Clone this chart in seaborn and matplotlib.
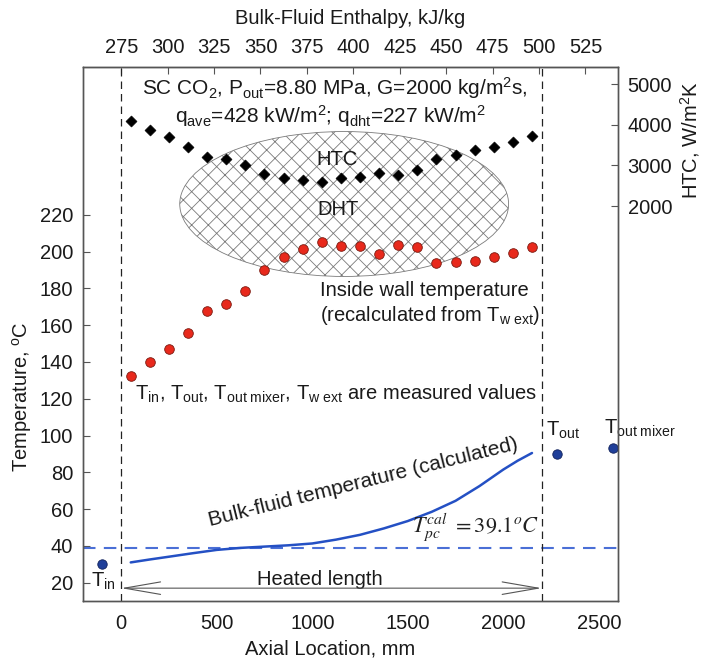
# ----------------------------------------------------------------------------
# SC CO2 heat transfer: wall / bulk temperature and HTC vs axial location
# ----------------------------------------------------------------------------
import numpy as np
import pandas as pd
import matplotlib
matplotlib.use("Agg")
import matplotlib.pyplot as plt
from matplotlib.patches import Ellipse
import seaborn as sns

# ---- data -----------------------------------------------------------------
# axial locations of the thermocouples, mm
wall_x = [50, 150, 250, 350, 450, 550, 650, 750, 850, 950, 1050,
          1150, 1250, 1350, 1450, 1550, 1650, 1750, 1850, 1950, 2050, 2150]
# inside wall temperature, deg C
wall_t = [132.1, 140.0, 147.2, 156.0, 167.8, 171.5, 178.7, 190.1, 197.3, 201.4, 205.5,
          203.3, 203.2, 198.8, 203.7, 202.4, 193.8, 194.3, 195.0, 197.0, 199.5, 202.4]
# heat transfer coefficient, W/m2K
htc = [4106, 3877, 3711, 3464, 3202, 3153, 3005, 2790, 2699, 2642, 2593,
       2684, 2723, 2822, 2773, 2889, 3153, 3252, 3383, 3464, 3588, 3728]

# calculated bulk-fluid temperature
bulk_x = [50, 150, 250, 375, 500, 625, 750, 875, 1000, 1125, 1250, 1375,
          1500, 1625, 1750, 1875, 2000, 2075, 2150]
bulk_t = [31.0, 32.6, 34.1, 36.0, 37.8, 38.9, 39.6, 40.3, 41.3, 43.4, 46.0, 49.5,
          53.5, 58.5, 64.5, 72.5, 81.5, 86.3, 90.5]

# measured inlet / outlet / mixer temperatures
meas_x = [-100, 2280, 2575]
meas_t = [30.3, 90.0, 93.3]

t_pc = 39.1
heated_length = 2200
enthalpy_ticks = [275, 300, 325, 350, 375, 400, 425, 450, 475, 500, 525]
temp_ticks = [20, 40, 60, 80, 100, 120, 140, 160, 180, 200, 220]
htc_ticks = [2000, 3000, 4000, 5000]
axial_ticks = [0, 500, 1000, 1500, 2000, 2500]

wall_df = pd.DataFrame({'x': wall_x, 't': wall_t, 'htc': htc})
bulk_df = pd.DataFrame({'x': bulk_x, 't': bulk_t})
meas_df = pd.DataFrame({'x': meas_x, 't': meas_t})

# ---- style -----------------------------------------------------------------
sns.set_style("white")
plt.rcParams['font.family'] = ['Liberation Sans', 'DejaVu Sans']
plt.rcParams['mathtext.fontset'] = 'custom'
plt.rcParams['mathtext.rm'] = 'Liberation Sans'
plt.rcParams['mathtext.it'] = 'Liberation Sans:italic'
plt.rcParams['hatch.color'] = '#7a7a7a'
plt.rcParams['hatch.linewidth'] = 0.6

txt = '#1a1a1a'
fs = 14.5
tfs = 14.5

fig = plt.figure(figsize=(7.02, 6.62), dpi=100)
ax = fig.add_axes([0.1182, 0.0921, 0.7621, 0.8067])

# DHT region
ax.add_patch(Ellipse((1167, 225.9), 1721, 78.8, facecolor='none',
                     edgecolor='#7a7a7a', hatch='xx', lw=0.6, zorder=1))

# reference lines
ax.axhline(t_pc, color='#4a6fd6', ls=(0, (6, 4)), lw=1.5, zorder=2)
ax.axvline(0, color='#222222', ls=(0, (6, 4)), lw=0.9, zorder=2)
ax.axvline(heated_length, color='#222222', ls=(0, (6, 4)), lw=0.9, zorder=2)

# bulk fluid temperature
sns.lineplot(data=bulk_df, x='x', y='t', ax=ax, color='#2450c4', linewidth=1.8,
             zorder=3, legend=False)

# inside wall temperature
sns.scatterplot(data=wall_df, x='x', y='t', ax=ax, color='#e8291c', s=48,
                edgecolor='#7a1a10', linewidth=0.6, zorder=4, legend=False)

# measured temperatures
sns.scatterplot(data=meas_df, x='x', y='t', ax=ax, color='#1f3f99', s=46,
                edgecolor='#10205a', linewidth=0.6, zorder=4, legend=False)

ax.set_xlim(-200, 2600)
ax.set_ylim(10, 300.4)
ax.set_xticks(axial_ticks)
ax.set_yticks(temp_ticks)
ax.tick_params(axis='both', direction='in', length=5, labelsize=tfs, colors='#555555',
               labelcolor=txt)
ax.tick_params(axis='x', pad=9)
ax.tick_params(axis='y', pad=7)
ax.set_xlabel('Axial Location, mm', fontsize=fs, color=txt)
ax.set_ylabel(r'Temperature, $^\mathrm{o}$C', fontsize=fs, color=txt)
ax.xaxis.set_label_coords(0.462, -0.072)
ax.yaxis.set_label_coords(-0.092, 0.382)

# HTC on the right axis
ax2 = ax.twinx()
sns.scatterplot(data=wall_df, x='x', y='htc', ax=ax2, color='black', marker='D',
                s=32, edgecolor='black', linewidth=0.4, zorder=4, legend=False)
ax2.set_ylim(-7753, 5432)
ax2.set_yticks(htc_ticks)
ax2.tick_params(axis='y', direction='in', length=5, labelsize=tfs, colors='#555555',
                labelcolor=txt, pad=7)
ax2.set_ylabel(r'HTC, W/m$^2$K', fontsize=fs, color=txt)
ax2.yaxis.set_label_coords(1.113, 0.863)

# enthalpy on the top axis
mm_per_step = 243.0
secx = ax.secondary_xaxis('top', functions=(lambda x: 275 + x * 25 / mm_per_step,
                                            lambda h: (h - 275) * mm_per_step / 25))
secx.set_xticks(enthalpy_ticks)
secx.tick_params(direction='in', length=5, labelsize=tfs, colors='#555555',
                 labelcolor=txt, pad=7)
secx.set_xlabel('Bulk-Fluid Enthalpy, kJ/kg', fontsize=fs, color=txt, labelpad=10)

for a in (ax, ax2):
    for sp in a.spines.values():
        sp.set_color('#555555')
        sp.set_linewidth(1.0)
secx.spines['top'].set_color('#555555')

# annotations
ax.text(1118, 289, r'SC CO$_2$, P$_\mathrm{out}$=8.80 MPa, G=2000 kg/m$^2$s,',
        ha='center', va='center', fontsize=15, color=txt)
ax.text(1095, 273.5, r'q$_\mathrm{ave}$=428 kW/m$^2$; q$_\mathrm{dht}$=227 kW/m$^2$',
        ha='center', va='center', fontsize=15, color=txt)
ax.text(1130, 250.3, 'HTC', ha='center', va='center', fontsize=fs, color=txt, zorder=5)
ax.text(1133, 222.7, 'DHT', ha='center', va='center', fontsize=fs, color=txt, zorder=5)
ax.text(1038, 178.7, 'Inside wall temperature', ha='left', va='center',
        fontsize=fs, color=txt)
ax.text(1038, 165.5, r'(recalculated from T$_\mathrm{w\ ext}$)', ha='left', va='center',
        fontsize=fs, color=txt)
ax.text(71, 122.5, r'T$_\mathrm{in}$, T$_\mathrm{out}$, T$_\mathrm{out\ mixer}$, '
        r'T$_\mathrm{w\ ext}$ are measured values', ha='left', va='center',
        fontsize=fs, color=txt)
ax.text(2225, 103, r'T$_\mathrm{out}$', ha='left', va='center', fontsize=fs, color=txt)
ax.text(2525, 104, r'T$_\mathrm{out\ mixer}$', ha='left', va='center', fontsize=fs, color=txt)
ax.text(-160, 20.5, r'T$_\mathrm{in}$', ha='left', va='center', fontsize=fs, color=txt)
ax.text(1265, 74.5, 'Bulk-fluid temperature (calculated)', ha='center', va='center',
        rotation=14, rotation_mode='anchor', fontsize=15, color=txt)
ax.text(2189, 50.4, r'$T_{pc}^{cal}\ =39.1^{o}C$', ha='right', va='center',
        fontsize=16, color='#222222', math_fontfamily='stix')
ax.text(1042, 21.6, 'Heated length', ha='center', va='center', fontsize=fs, color=txt)
ax.annotate('', xy=(0, 17), xytext=(heated_length, 17),
            arrowprops=dict(arrowstyle='<->, head_length=2.6, head_width=0.45',
                            color='#555555', lw=0.8, mutation_scale=10,
                            shrinkA=0, shrinkB=0))

plt.savefig('out.png', dpi=100)
